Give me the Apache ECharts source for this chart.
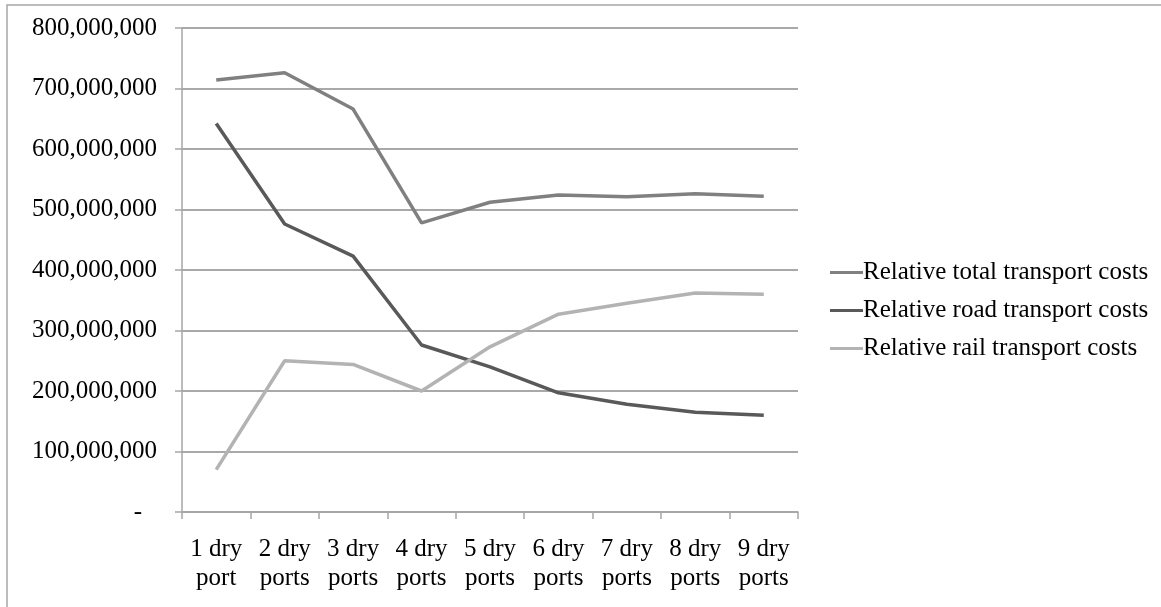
<!DOCTYPE html>
<html>
<head>
<meta charset="utf-8">
<script src="https://cdn.jsdelivr.net/npm/echarts@6/dist/echarts.min.js"></script>
<style>
  html, body { margin: 0; padding: 0; background: #fff; }
  #chart { width: 1161px; height: 607px; }
</style>
</head>
<body>
<div id="chart"></div>
<script>
// Category labels (number of dry ports)
const categories = ['1 dry\nport', '2 dry\nports', '3 dry\nports', '4 dry\nports', '5 dry\nports',
                    '6 dry\nports', '7 dry\nports', '8 dry\nports', '9 dry\nports'];

// Relative transport costs per scenario
const totalCosts = [714000000, 726000000, 666000000, 478000000, 512000000, 524000000, 521000000, 526000000, 522000000];
const roadCosts  = [642000000, 476000000, 423000000, 276000000, 240000000, 197000000, 178000000, 165000000, 160000000];
const railCosts  = [70000000, 250000000, 244000000, 200000000, 273000000, 327000000, 345000000, 362000000, 360000000];

const seriesNames = ['Relative total transport costs', 'Relative road transport costs', 'Relative rail transport costs'];
const seriesColors = ['#808080', '#595959', '#b3b3b3'];

const FONT = '"Liberation Serif", "Times New Roman", serif';

// Accounting-style numbers: zero shown as a dash set in from the right edge
function fmt(v) {
  if (v === 0) return '{dash|-}';
  return v.toLocaleString('en-US');
}

const chart = echarts.init(document.getElementById('chart'), null, { renderer: 'canvas' });

function lineSeries(name, data, color) {
  return {
    name: name,
    type: 'line',
    data: data,
    symbol: 'none',
    smooth: false,
    lineStyle: { color: color, width: 3.5 },
    itemStyle: { color: color },
    emphasis: { disabled: true }
  };
}

chart.setOption({
  animation: false,
  backgroundColor: '#fff',
  graphic: [
    {
      type: 'polyline',
      shape: { points: [[7, 607], [7, 5], [1161, 5]] },
      style: { stroke: '#a6a6a6', lineWidth: 1.5, fill: null }
    }
  ],
  grid: { left: 182, right: 363, top: 28, bottom: 95, containLabel: false },
  legend: {
    orient: 'vertical',
    left: 825,
    top: 255,
    itemWidth: 33,
    itemHeight: 3,
    itemGap: 13,
    icon: 'rect',
    textStyle: { fontFamily: FONT, fontSize: 25, color: '#000', padding: [0, 0, 0, -5] },
    data: seriesNames
  },
  xAxis: {
    type: 'category',
    data: categories,
    boundaryGap: true,
    axisLine: { lineStyle: { color: '#a6a6a6', width: 1.5 } },
    axisTick: { show: true, length: 7, lineStyle: { color: '#a6a6a6', width: 1.5 } },
    axisLabel: { fontFamily: FONT, fontSize: 25, color: '#000', margin: 23, lineHeight: 29, interval: 0 },
    splitLine: { show: false }
  },
  yAxis: {
    type: 'value',
    min: 0,
    max: 800000000,
    interval: 100000000,
    axisLine: { show: true, lineStyle: { color: '#a6a6a6', width: 1.5 } },
    axisTick: { show: true, length: 7, lineStyle: { color: '#a6a6a6', width: 1.5 } },
    axisLabel: {
      fontFamily: FONT, fontSize: 25, color: '#000', margin: 25, formatter: fmt,
      rich: { dash: { fontFamily: FONT, fontSize: 25, color: '#000', padding: [0, 15, 0, 0] } }
    },
    splitLine: { show: true, lineStyle: { color: '#8c8c8c', width: 1.5 } }
  },
  series: [
    lineSeries(seriesNames[0], totalCosts, seriesColors[0]),
    lineSeries(seriesNames[1], roadCosts, seriesColors[1]),
    lineSeries(seriesNames[2], railCosts, seriesColors[2])
  ]
});
</script>
</body>
</html>
